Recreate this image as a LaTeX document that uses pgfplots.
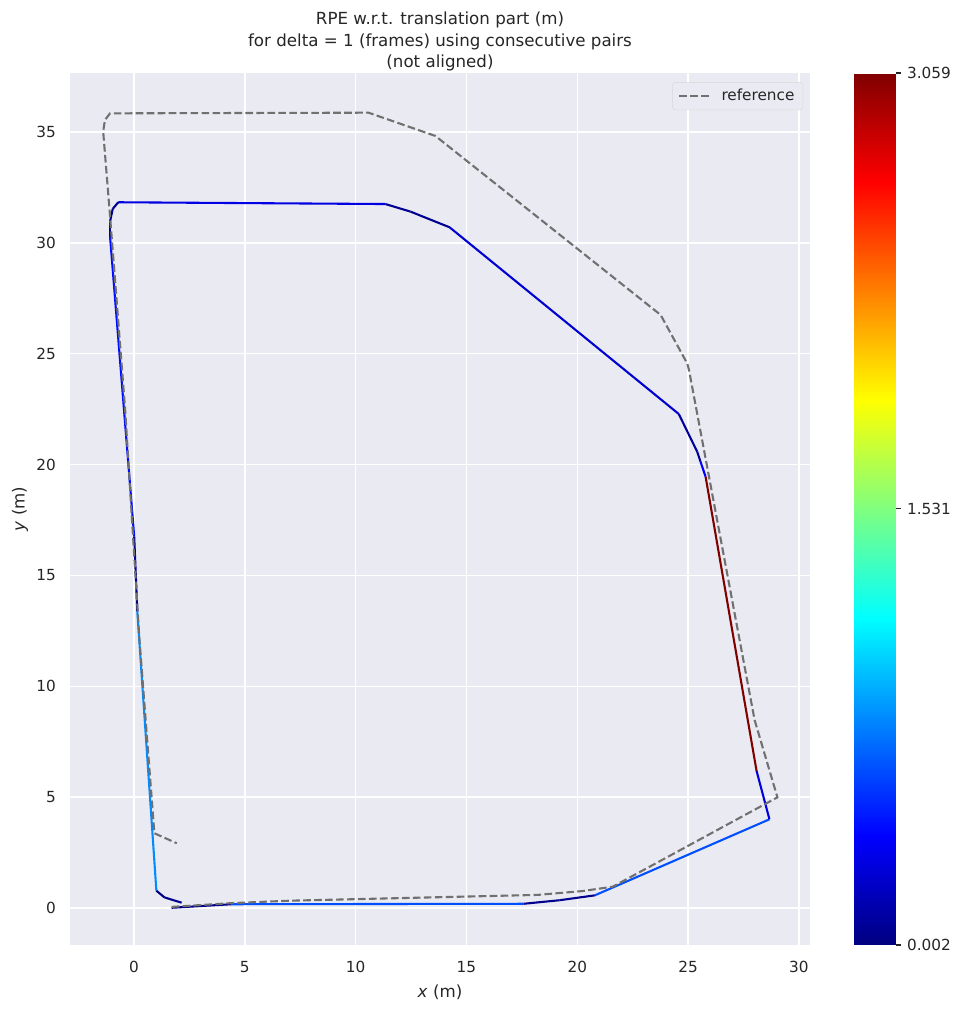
\documentclass[border=0pt]{standalone}
\usepackage{pgfplots}
\pgfplotsset{compat=1.18}
\usepackage{fontspec}
\setmainfont{DejaVu Sans}
\definecolor{bgcol}{HTML}{EAEAF2}
\definecolor{txt}{HTML}{262626}
\definecolor{refgray}{HTML}{707070}

\pgfplotstableread{
x y c
1.70 0.01 0.04
4.40 0.17 0.04
4.40 0.17 0.62
17.58 0.19 0.62
17.58 0.19 0.04
19.20 0.35 0.04
20.79 0.57 0.04
20.79 0.57 0.62
28.67 4.00 0.62
28.67 4.00 0.28
28.09 6.18 0.28
28.09 6.18 3.059
25.79 19.45 3.059
25.79 19.45 0.38
25.56 20.13 0.38
25.56 20.13 0.08
25.41 20.58 0.08
24.58 22.28 0.08
24.58 22.28 0.25
14.24 30.70 0.25
14.24 30.70 0.05
12.47 31.41 0.05
11.34 31.75 0.05
11.34 31.75 0.30
-0.71 31.83 0.30
-0.71 31.83 0.04
-0.96 31.53 0.04
-1.08 30.96 0.04
-1.08 30.28 0.04
-1.08 30.28 0.42
0.01 16.75 0.42
0.01 16.75 0.03
0.15 13.37 0.03
0.15 13.37 0.80
1.01 0.78 0.80
1.01 0.78 0.04
1.37 0.48 0.04
1.85 0.33 0.04
2.15 0.24 0.04
}\estimate

\pgfplotstableread{
x y
1.70 0.05
4.40 0.22
7.05 0.33
18.20 0.59
20.20 0.76
21.60 0.96
29.03 4.99
28.00 8.48
25.04 24.27
24.96 24.56
23.76 26.75
13.60 34.82
10.58 35.87
-1.08 35.84
-1.31 35.54
-1.39 35.02
-1.08 31.20
-0.40 22.50
0.24 12.20
0.92 3.37
1.93 2.92
}\reference

\begin{document}
\begin{tikzpicture}
\begin{axis}[
  scale only axis,
  width=532.8pt, height=627.84pt,
  xmin=-2.887, xmax=30.50,
  ymin=-1.669, ymax=37.66,
  axis background/.style={fill=bgcol},
  axis line style={draw=none},
  major tick length=0pt,
  grid=major,
  major grid style={white, line width=1pt},
  xtick={0,5,...,30},
  ytick={0,5,...,35},
  /pgf/number format/assume math mode=true,
  tick label style={font=\fontsize{11}{13}\selectfont, text=txt},
  xticklabel style={yshift=-8.2pt},
  yticklabel style={xshift=-6.7pt},
  xlabel={\textit{x} (m)},
  ylabel={\textit{y} (m)},
  label style={font=\fontsize{12}{14}\selectfont, text=txt},
  xlabel style={at={(axis description cs:0.5,0)}, anchor=center, yshift=-33.8pt},
  ylabel style={at={(axis description cs:0,0.5)}, anchor=center, rotate=0, yshift=36pt},
  title={RPE w.r.t. translation part (m)\\for delta = 1 (frames) using consecutive pairs\\(not aligned)},
  title style={align=center, font=\fontsize{12}{15.5}\selectfont, text=txt, at={(axis description cs:0.5,1)}, anchor=south, yshift=-8.4pt},
  colormap/jet,
  point meta min=0.002, point meta max=3.059,
  colorbar,
  colorbar/width=30.2pt,
  colorbar shift/.style={xshift=31.7pt},
  colorbar style={
    at={(parent axis.north east)}, anchor=north west,
    width=30.2pt,
    xmin=0, xmax=1,
    ytick={0.002,1.531,3.059},
    yticklabels={0.002,1.531,3.059},
    axis line style={draw=none},
    ytick pos=right,
    tick align=outside,
    major tick length=3.5pt,
    tick style={draw=txt, line width=0.8pt},
    yticklabel style={font=\fontsize{11}{13}\selectfont, text=txt, xshift=1pt},
    grid=none,
  },
  legend cell align=left,
  legend style={at={(1,1)}, anchor=north east, xshift=-5pt, yshift=-6.5pt,
    fill=bgcol, draw=black!15, rounded corners=2pt,
    font=\fontsize{11}{13}\selectfont, text=txt, inner xsep=4pt, inner ysep=3pt},
  legend image code/.code={\draw[#1] (0cm,0cm) -- (0.76cm,0cm); \path (0.76cm+6pt,0cm);},
]
\addplot[mesh, shader=flat, line width=1.5pt, point meta=explicit, forget plot]
  table[x=x, y=y, meta=c] {\estimate};
\addplot[refgray, line width=1.5pt, dash pattern=on 5.5pt off 2.4pt]
  table[x=x, y=y] {\reference};
\addlegendentry{reference}
\coordinate (ll) at (rel axis cs:0,0);
\coordinate (ur) at (rel axis cs:1,1);
\end{axis}
\pgfresetboundingbox
\path ([xshift=-50.4pt,yshift=-47.52pt]ll) rectangle ([xshift=110.16pt,yshift=52.56pt]ur);
\end{tikzpicture}
\end{document}
